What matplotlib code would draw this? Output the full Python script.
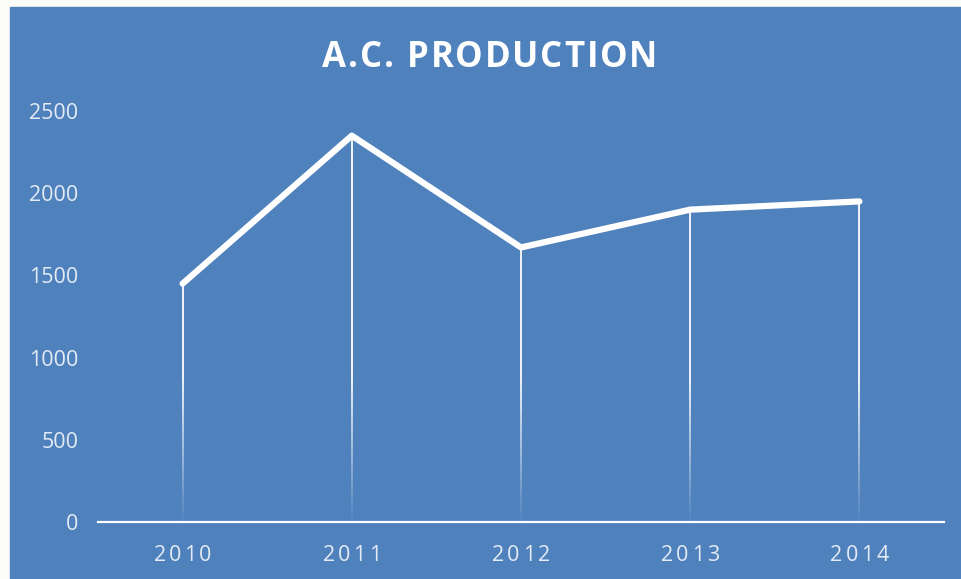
import numpy as np
import matplotlib.pyplot as plt
from matplotlib.collections import LineCollection
from matplotlib.patches import Rectangle

years = ['2010', '2011', '2012', '2013', '2014']
production = [1450, 2350, 1670, 1900, 1950]
y_ticks = [0, 500, 1000, 1500, 2000, 2500]
title = 'A.C. PRODUCTION'

BLUE = '#4F81BD'
LABEL = '#E4EBF4'
W, H = 962, 579

plt.rcParams['font.family'] = ['Open Sans', 'DejaVu Sans']


def spaced_text(fig, renderer, xc, y, s, width, **kw):
    # no letter-spacing in matplotlib, so place glyphs one at a time (pixel coords)
    arts = [fig.text(0, 0, ch, transform=None, ha='left', va='baseline', **kw) for ch in s]
    widths = [t.get_window_extent(renderer).width for t in arts]
    gap = (width - sum(widths)) / (len(s) - 1)
    x = xc - width / 2
    for t, w in zip(arts, widths):
        t.set_position((x, y))
        x += w + gap


fig = plt.figure(figsize=(W / 100, H / 100), dpi=100)
fig.patch.set_facecolor('#FBFBF8')
fig.patches.append(Rectangle((10 / W, 0), (W - 10) / W, (H - 7) / H,
                             transform=fig.transFigure, color=BLUE, zorder=-1))

ax = fig.add_axes([98 / W, (H - 522) / H, (944 - 98) / W, (522 - 111) / H])
ax.set_facecolor('none')
x = np.arange(len(years))

# drop lines fading out towards the axis
segs, cols = [], []
for xi, v in zip(x, production):
    ys = np.linspace(0, v, 80)
    for a, b in zip(ys[:-1], ys[1:]):
        segs.append([(xi, a), (xi, b)])
        cols.append((1, 1, 1, float(np.clip(b / 900, 0.03, 1))))
ax.add_collection(LineCollection(segs, colors=cols, linewidths=1.3, zorder=2))

ax.plot(x, production, color='white', lw=4.5, solid_capstyle='round',
        solid_joinstyle='round', zorder=3)

ax.set_xlim(-0.5, len(years) - 0.5)
ax.set_ylim(0, 2500)
ax.set_yticks(y_ticks)
ax.set_xticks([])
ax.tick_params(axis='y', length=0, pad=14, labelsize=15.5, labelcolor=LABEL)
for s in ['top', 'right', 'left']:
    ax.spines[s].set_visible(False)
ax.spines['bottom'].set_color('white')
ax.spines['bottom'].set_linewidth(1.6)

renderer = fig.canvas.get_renderer()
spaced_text(fig, renderer, 490, H - 67, title, 335, color='white',
            fontsize=25, fontweight='bold')
for xi, lab in zip(x, years):
    px = ax.transData.transform((xi, 0))[0]
    spaced_text(fig, renderer, px, H - 561, lab, 58, color=LABEL, fontsize=15.5)

fig.savefig('out.png', dpi=100)
